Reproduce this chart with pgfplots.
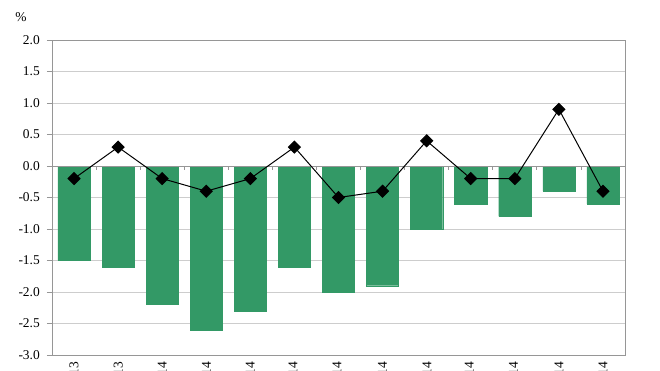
\documentclass[border=0pt]{standalone}
\usepackage{pgfplots}
\pgfplotsset{compat=1.18}
\usepackage{fontspec}
\setmainfont{Liberation Serif}
\definecolor{bargreen}{RGB}{51,153,102}
\definecolor{gridgray}{RGB}{205,205,205}
\definecolor{axgray}{RGB}{150,150,150}
\begin{document}
\begin{tikzpicture}
\begin{axis}[
  at={(0,0)}, anchor=south west,
  scale only axis,
  width=573bp, height=315bp,
  xmin=-0.5, xmax=12.5,
  ymin=-3, ymax=2,
  ytick={-3,-2.5,...,2},
  ymajorgrids,
  grid style={gridgray, line width=0.9pt},
  axis line style={axgray, line width=0.8pt},
  ytick style={axgray, line width=0.8pt},
  tick align=outside,
  major tick length=5bp,
  ytick pos=left,
  xtick=data,
  xticklabels={Nov-13,Dec-13,Jan-14,Feb-14,Mar-14,Apr-14,May-14,Jun-14,Jul-14,Aug-14,Sep-14,Oct-14,Nov-14},
  xtick style={draw=none},
  xticklabel style={rotate=90, anchor=east, font=\fontsize{13.5}{14}\selectfont, inner sep=2bp},
  yticklabel style={font=\fontsize{13.5}{14}\selectfont, inner sep=0pt, xshift=-7bp},
  /pgf/number format/assume math mode=true,
  /pgf/number format/.cd, fixed, fixed zerofill, precision=1, /pgfplots/.cd,
  clip=false,
]
\addplot[ybar, bar width=0.73, fill=bargreen, draw=bargreen, line width=0.4pt]
  coordinates {(0,-1.5) (1,-1.6) (2,-2.2) (3,-2.6) (4,-2.3) (5,-1.6) (6,-2.0) (7,-1.9) (8,-1.0) (9,-0.6) (10,-0.8) (11,-0.4) (12,-0.6)};
\draw[axgray, line width=0.8pt] (axis cs:-0.5,0) -- (axis cs:12.5,0);
\pgfplotsinvokeforeach{0.5,1.5,2.5,3.5,4.5,5.5,6.5,7.5,8.5,9.5,10.5,11.5}{
  \draw[axgray, line width=0.8pt] (axis cs:#1,0) -- ++(0pt,-4bp);
}
\addplot[black, line width=1pt, mark=square*, mark size=4.2bp, mark options={rotate=45, fill=black}]
  coordinates {(0,-0.2) (1,0.3) (2,-0.2) (3,-0.4) (4,-0.2) (5,0.3) (6,-0.5) (7,-0.4) (8,0.4) (9,-0.2) (10,-0.2) (11,0.9) (12,-0.4)};
\node[font=\fontsize{13.5}{14}\selectfont] at (rel axis cs:0,1) [xshift=-31bp, yshift=23bp] {\%};
\end{axis}
\pgfresetboundingbox
\useasboundingbox (-52bp,-16bp) rectangle (608bp,355bp);
\end{tikzpicture}
\end{document}
